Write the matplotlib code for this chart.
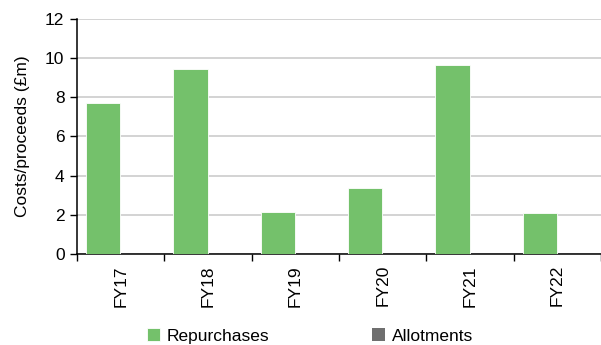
import matplotlib
matplotlib.use("Agg")
import matplotlib.pyplot as plt
import numpy as np

plt.rcParams['font.family'] = ['Liberation Sans', 'DejaVu Sans']

years = ['FY17', 'FY18', 'FY19', 'FY20', 'FY21', 'FY22']
repurchases = [7.72, 9.44, 2.14, 3.38, 9.63, 2.09]
allotments = [0, 0, 0, 0, 0, 0]

green = '#74c16b'
grey = '#6f6f6f'

fig = plt.figure(figsize=(6.01, 3.45), dpi=100)
ax = fig.add_axes([77 / 601, 1 - 254 / 345, 1 - 77 / 601, (254 - 18.7) / 345])

x = np.arange(len(years))
w = 0.395
ax.bar(x - 0.2, repurchases, w, color=green, edgecolor='white', linewidth=0.6,
       label='Repurchases', zorder=3)
ax.bar(x + 0.2, allotments, w, color=grey, label='Allotments', zorder=3)

ax.set_xlim(-0.5, len(years) - 0.5)
ax.set_ylim(0, 12)
ax.set_yticks(range(0, 13, 2))
ax.yaxis.grid(True, color='#cccccc', linewidth=1.2, zorder=0)
ax.set_axisbelow(True)

ax.set_xticks(x)
ax.set_xticklabels(years, rotation=90)
ax.set_xticks(np.arange(len(years) + 1) - 0.5, minor=True)
ax.tick_params(axis='x', which='major', length=0, pad=8)
ax.tick_params(axis='x', which='minor', length=5, width=1, direction='out')
ax.tick_params(axis='y', length=5, width=1, pad=4)
ax.tick_params(labelsize=12.5)

for s in ['top', 'right']:
    ax.spines[s].set_visible(False)
for s in ['left', 'bottom']:
    ax.spines[s].set_linewidth(1.1)
    ax.spines[s].set_color('black')

ax.set_ylabel('Costs/proceeds (£m)', fontsize=12.5, labelpad=11)

fig.legend(loc='center', bbox_to_anchor=(0.516, 1 - 336 / 345), ncol=2,
           frameon=False, fontsize=12.5, handlelength=0.75, handleheight=0.75,
           handletextpad=0.4, columnspacing=5.9)

fig.savefig('out.png', dpi=100)
